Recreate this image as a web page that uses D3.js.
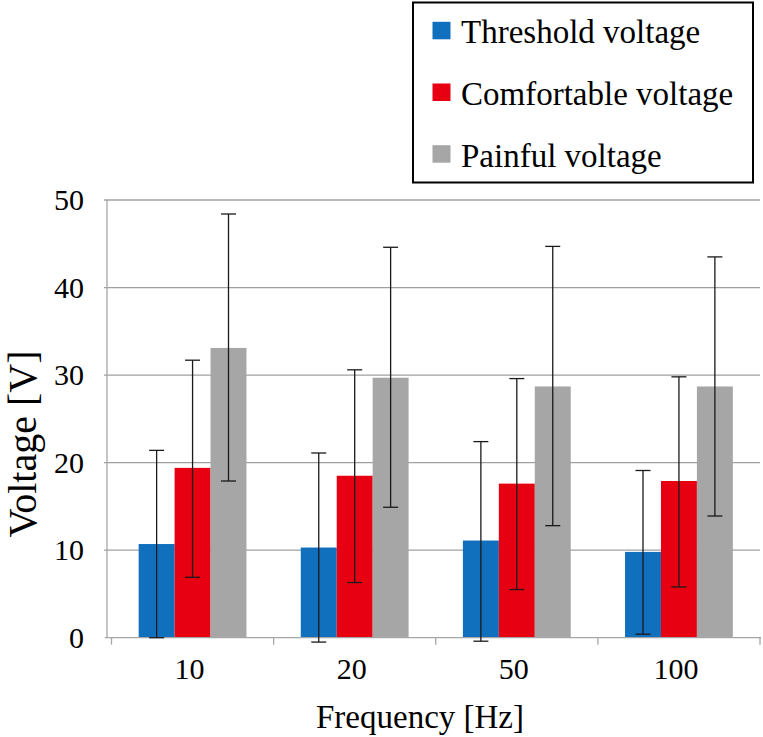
<!DOCTYPE html>
<html><head><meta charset="utf-8">
<script src="https://cdn.jsdelivr.net/npm/d3@7/dist/d3.min.js"></script>
</head><body style="margin:0;background:#fff">
<svg id="c" width="763" height="737" style="display:block"></svg>
<script>
const categories = ["10", "20", "50", "100"];
const seriesNames = ["Threshold voltage", "Comfortable voltage", "Painful voltage"];
const seriesColors = ["#1170bd", "#e60012", "#a6a6a6"];
const thresholdMean = [10.7, 10.3, 11.1, 9.8];
const thresholdLow = [0.0, -0.5, -0.4, 0.4];
const thresholdHigh = [21.4, 21.1, 22.4, 19.1];
const comfortableMean = [19.4, 18.5, 17.6, 17.9];
const comfortableLow = [6.9, 6.3, 5.5, 5.8];
const comfortableHigh = [31.7, 30.6, 29.6, 29.8];
const painfulMean = [33.1, 29.7, 28.7, 28.7];
const painfulLow = [17.9, 14.9, 12.8, 13.9];
const painfulHigh = [48.4, 44.6, 44.7, 43.5];
const yTicks = [0, 10, 20, 30, 40, 50];

const means = [thresholdMean, comfortableMean, painfulMean];
const lows = [thresholdLow, comfortableLow, painfulLow];
const highs = [thresholdHigh, comfortableHigh, painfulHigh];

function serif(sel, size) {
  return sel.attr("font-family", "Liberation Serif").attr("font-size", size)
    .style("font-family", '"Liberation Serif", "Times New Roman", serif').style("font-size", size + "px");
}

const svg = d3.select("#c");
const y = d3.scaleLinear().domain([0, 50]).range([637.7, 200]);
const x0 = d3.scaleBand().domain(categories).range([111.5, 760]).paddingInner(0.335).paddingOuter(0.1675);
const x1 = d3.scaleBand().domain(d3.range(seriesNames.length)).range([0, x0.bandwidth()]);
const axisLeft = 107;

svg.append("g").selectAll("line").data(yTicks.slice(1)).join("line")
  .attr("x1", axisLeft - 3).attr("x2", 760)
  .attr("y1", d => y(d)).attr("y2", d => y(d))
  .attr("stroke", "#a0a0a0").attr("stroke-width", 1.3);
svg.append("line").attr("x1", axisLeft).attr("x2", axisLeft).attr("y1", y(50)).attr("y2", y(0))
  .attr("stroke", "#a6a6a6").attr("stroke-width", 1.3);

const data = [];
categories.forEach((c, i) => seriesNames.forEach((s, j) => data.push({c, j, v: means[j][i], lo: lows[j][i], hi: highs[j][i]})));
svg.append("g").selectAll("rect").data(data).join("rect")
  .attr("x", d => x0(d.c) + x1(d.j)).attr("width", x1.bandwidth())
  .attr("y", d => y(d.v)).attr("height", d => y(0) - y(d.v))
  .attr("fill", d => seriesColors[d.j]);

svg.append("line").attr("x1", 105).attr("x2", 761).attr("y1", y(0)).attr("y2", y(0))
  .attr("stroke", "#a6a6a6").attr("stroke-width", 1.3);
const bounds = categories.map(c => x0(c) - x0.step() * x0.paddingInner() / 2).concat([760]);
svg.append("g").selectAll("line").data(bounds).join("line")
  .attr("x1", d => d).attr("x2", d => d).attr("y1", y(0)).attr("y2", y(0) + 7)
  .attr("stroke", "#a6a6a6").attr("stroke-width", 1.3);

const eg = svg.append("g").attr("stroke", "#1a1a1a").attr("stroke-width", 1.3);
data.forEach(d => {
  const cx = x0(d.c) + x1(d.j) + x1.bandwidth() / 2;
  eg.append("line").attr("x1", cx).attr("x2", cx).attr("y1", y(d.lo)).attr("y2", y(d.hi));
  [d.lo, d.hi].forEach(v => eg.append("line").attr("x1", cx - 7.5).attr("x2", cx + 7.5).attr("y1", y(v)).attr("y2", y(v)));
});

serif(svg.append("g").selectAll("text").data(yTicks).join("text")
  .attr("transform", d => `translate(84,${y(d) + 10})`).attr("text-anchor", "end").text(d => d), 30);
serif(svg.append("g").selectAll("text").data(categories).join("text")
  .attr("transform", d => `translate(${x0(d) + x0.bandwidth() / 2 - 3},679)`).attr("text-anchor", "middle").text(d => d), 30);
serif(svg.append("text").attr("transform", "translate(420,728)").attr("text-anchor", "middle").text("Frequency [Hz]"), 33);
serif(svg.append("text").attr("transform", "translate(36,444) rotate(-90)").attr("text-anchor", "middle").text("Voltage [V]"), 40);

const lg = svg.append("g");
lg.append("rect").attr("x", 413).attr("y", 2.5).attr("width", 340).attr("height", 180)
  .attr("fill", "#fff").attr("stroke", "#000").attr("stroke-width", 2);
seriesNames.forEach((s, j) => {
  const by = 43.3 + j * 61.7;
  lg.append("rect").attr("x", 432.5).attr("y", by - 21.5).attr("width", 18).attr("height", 17.5).attr("fill", seriesColors[j]);
  serif(lg.append("text").attr("transform", `translate(461,${by})`).text(s), 33);
});
</script>
</body></html>
